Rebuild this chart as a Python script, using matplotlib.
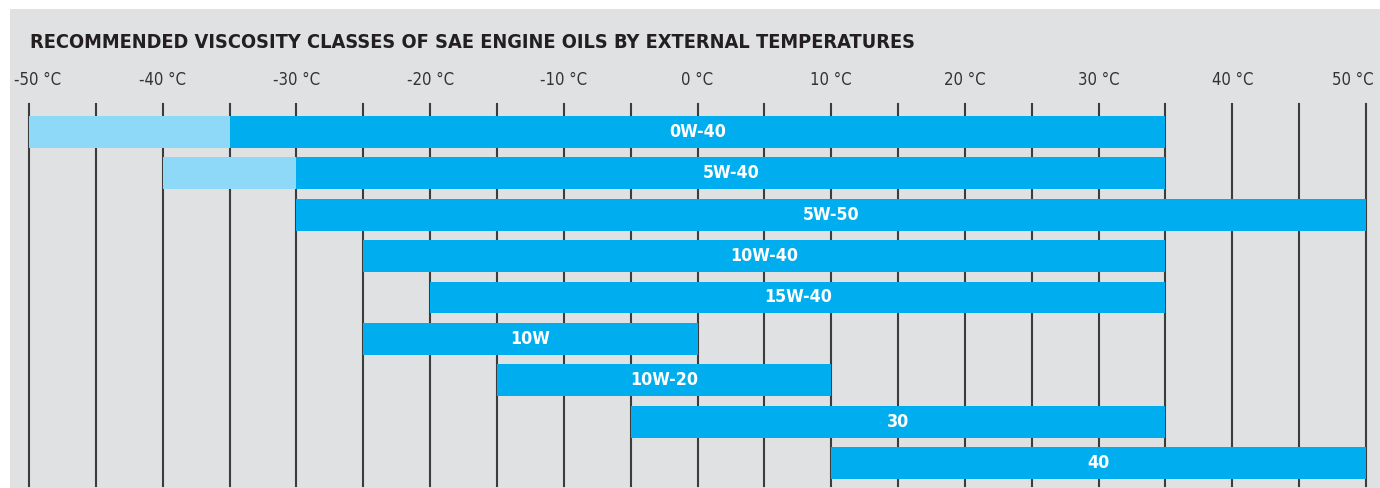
import matplotlib
matplotlib.use("Agg")
import matplotlib.pyplot as plt
from matplotlib.patches import Rectangle

# viscosity classes, top to bottom
grades = ['0W-40', '5W-40', '5W-50', '10W-40', '15W-40', '10W', '10W-20', '30', '40']
# lower limit of the light (extended) part, None if there is none
light_start = [-50, -40, None, None, None, None, None, None, None]
# start and end of the main range in °C
dark_start = [-35, -30, -30, -25, -20, -25, -15, -5, 10]
dark_end = [35, 35, 50, 35, 35, 0, 10, 35, 50]

ticks = list(range(-50, 51, 10))
tick_labels = ['%d °C' % t for t in ticks]
grid_lines = list(range(-50, 51, 5))

W, H = 1380, 488
bg = '#e0e1e3'
dark = '#00aeef'
light = '#8ed8f8'
FONT = ['DejaVu Sans']

fig = plt.figure(figsize=(W / 100, H / 100), dpi=100, facecolor='white')
fig.patches.append(Rectangle((10 / W, 0), 1 - 10 / W, (H - 9) / H,
                             transform=fig.transFigure, facecolor=bg,
                             edgecolor='none', zorder=-5))

# axes: -50 at x=29, 50 at x=1366; lines from y=104 to y=486
ax = fig.add_axes([29 / W, (H - 486) / H, (1366 - 29) / W, (486 - 104) / H])
ax.set_zorder(2)
ax.set_facecolor('none')
ax.set_xlim(-50, 50)
ax.set_ylim(8 + 23 / 41.4, -28 / 41.4)
ax.axis('off')

for g in grid_lines:
    ax.axvline(g, color='#3c3c3c', lw=1.5, zorder=1, clip_on=False)

for i, name in enumerate(grades):
    if light_start[i] is not None:
        ax.barh(i, dark_start[i] - light_start[i], left=light_start[i],
                height=0.77, color=light, zorder=2)
    ax.barh(i, dark_end[i] - dark_start[i], left=dark_start[i],
            height=0.77, color=dark, zorder=2)
    mid = (dark_start[i] + dark_end[i]) / 2
    ax.text(mid, i, name, ha='center', va='center', color='white',
            fontsize=12.8, fontweight='bold', family=FONT, stretch='condensed',
            zorder=3)

# temperature labels above the lines, end ones nudged inwards
for t, lab in zip(ticks, tick_labels):
    dx = 0
    if t == ticks[0]:
        dx = 9
    elif t == ticks[-1]:
        dx = -13
    ax.annotate(lab, xy=(t, 1), xycoords=('data', 'axes fraction'),
                xytext=(dx, 24), textcoords='offset pixels',
                ha='center', va='center', fontsize=12, color='#333333',
                family=FONT, stretch='condensed', annotation_clip=False)

fig.text(30 / W, 1 - 42 / H, 'RECOMMENDED VISCOSITY CLASSES OF SAE ENGINE OILS BY EXTERNAL TEMPERATURES',
         ha='left', va='center', fontsize=14.3, fontweight='bold', color='#231f20',
         family=FONT, stretch='condensed')

fig.savefig('out.png', dpi=100, facecolor='white')
